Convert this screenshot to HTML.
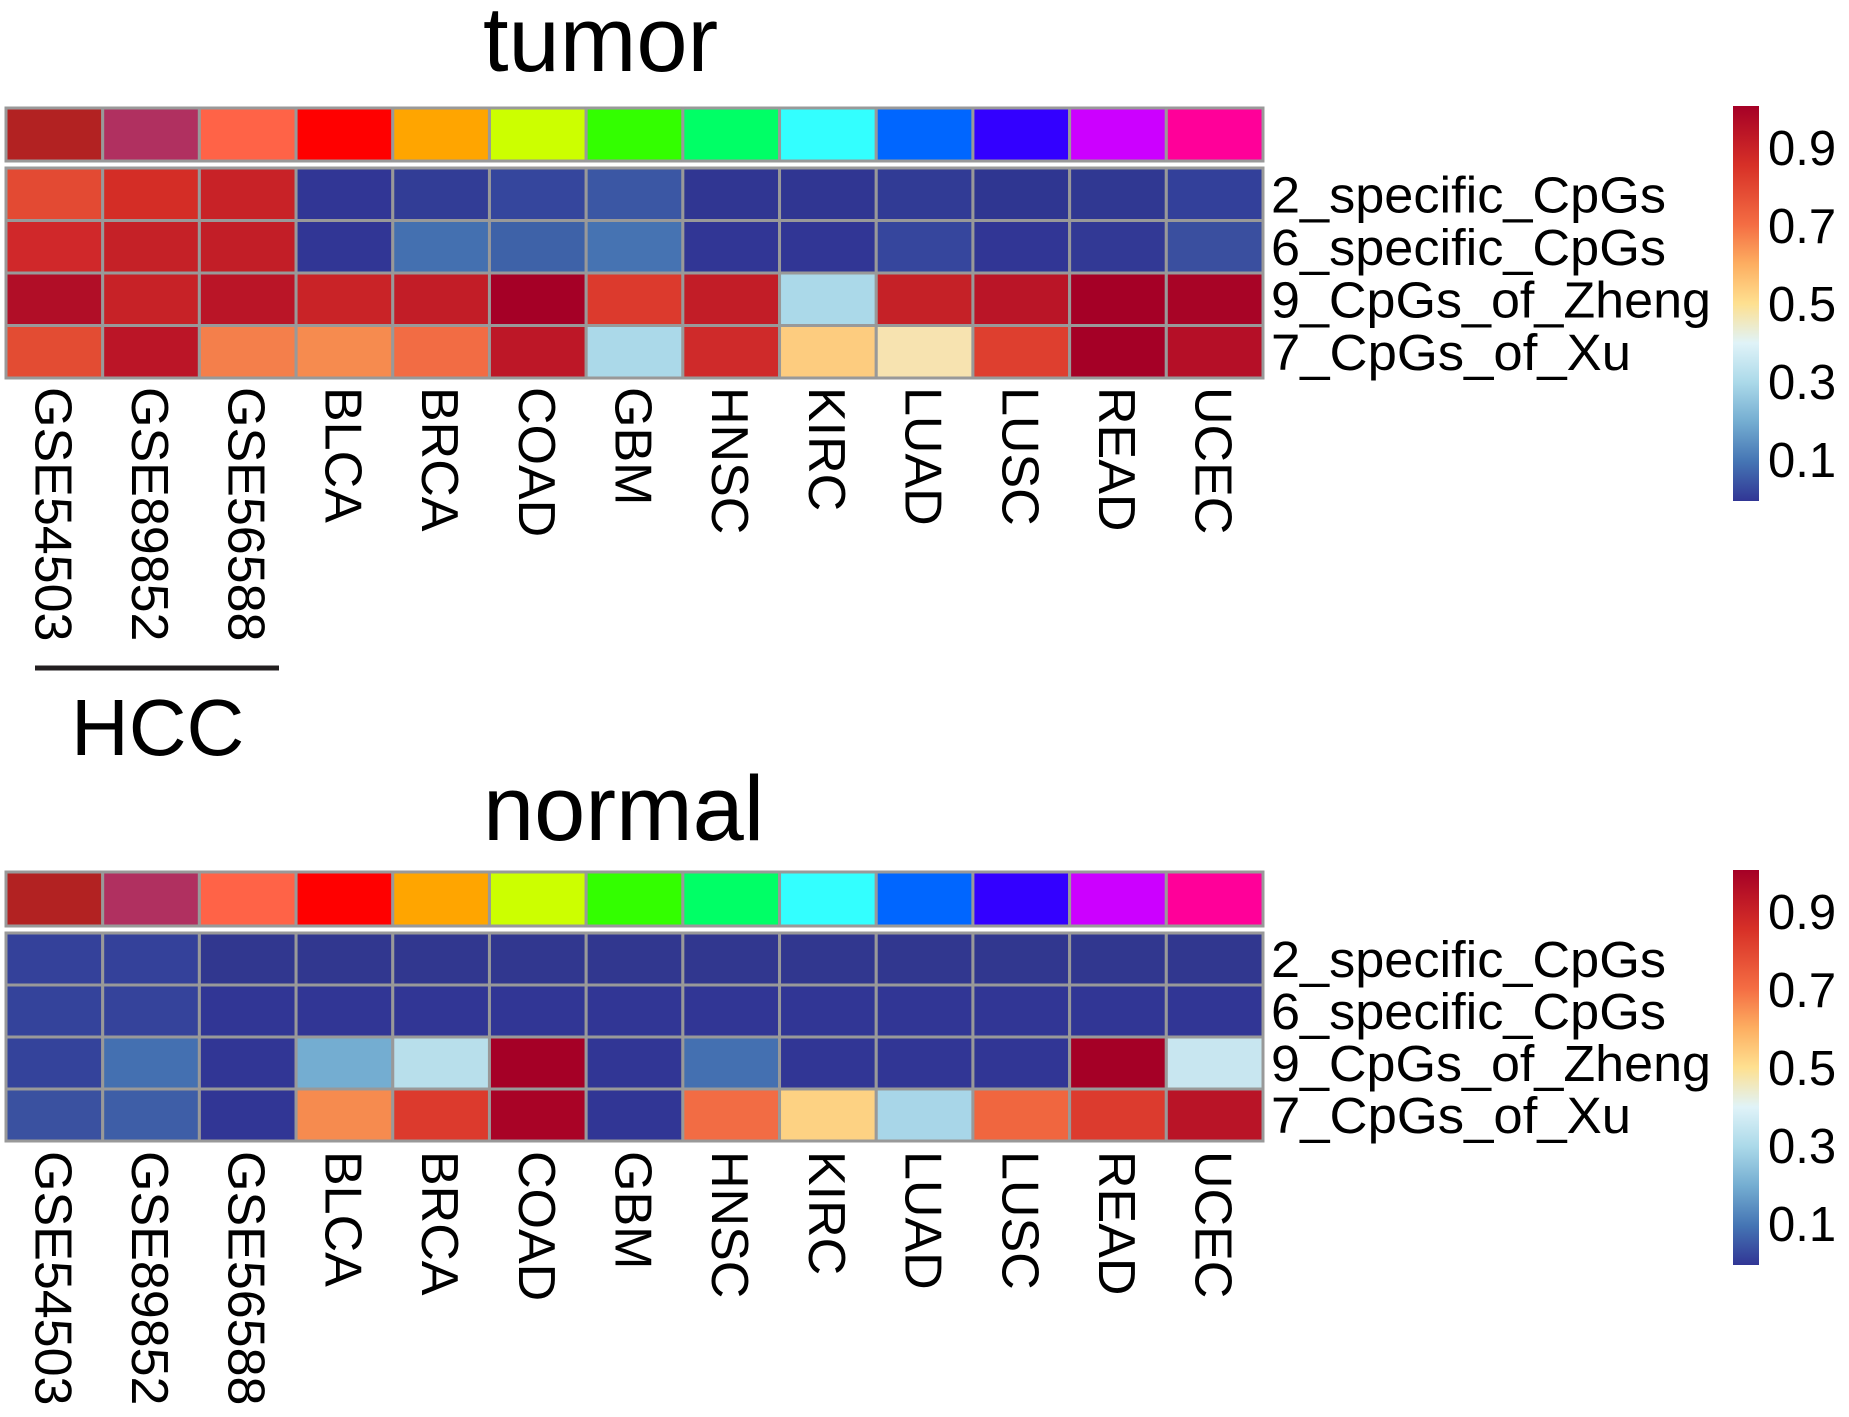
<!DOCTYPE html>
<html><head><meta charset="utf-8"><style>
html,body{margin:0;padding:0;background:#fff;}
svg{display:block;font-family:"Liberation Sans",Arial,sans-serif;}
</style></head><body>
<svg id="s" width="1849" height="1417" viewBox="0 0 1849 1417" xmlns="http://www.w3.org/2000/svg">
<defs>
<linearGradient id="cb" x1="0" y1="1" x2="0" y2="0">
<stop offset="0" stop-color="#313695"/><stop offset="0.1" stop-color="#4575b4"/>
<stop offset="0.2" stop-color="#74add1"/><stop offset="0.3" stop-color="#abd9e9"/>
<stop offset="0.4" stop-color="#e0f3f8"/><stop offset="0.5" stop-color="#fee090"/>
<stop offset="0.6" stop-color="#fdae61"/><stop offset="0.7" stop-color="#f46d43"/>
<stop offset="0.85" stop-color="#d73027"/><stop offset="1" stop-color="#a50026"/>
</linearGradient>
</defs>
<text x="483" y="71" font-size="92">tumor</text>
<text x="483" y="840" font-size="92">normal</text>
<line x1="35" y1="668" x2="279" y2="668" stroke="#231f20" stroke-width="5"/>
<text x="71" y="755" font-size="80">HCC</text>
<g id="panels"></g>
</svg>
<script>
var ann=["#B22222","#B03060","#FF6347","#FF0000","#FFA500","#CCFF00","#33FF00","#00FF66","#33FFFF","#0066FF","#3300FF","#CC00FF","#FF0099"];
var cols=["GSE54503","GSE89852","GSE56588","BLCA","BRCA","COAD","GBM","HNSC","KIRC","LUAD","LUSC","READ","UCEC"];
var rows=["2_specific_CpGs","6_specific_CpGs","9_CpGs_of_Zheng","7_CpGs_of_Xu"];
var T=[
["#E34A33","#D42D26","#C82227","#313695","#323d96","#35469d","#3b57a4","#303692","#303692","#313b95","#2f3691","#303892","#33409a"],
["#D0282A","#C52127","#C21E27","#313695","#4470b0","#3e62a8","#4673b2","#313695","#313695","#36469d","#313695","#323995","#3a4f9f"],
["#B10E27","#C72227","#BA1527","#C92327","#C21D27","#A50026","#DC3A2D","#C21D27","#ABD9E9","#C52127","#BA1527","#A50026","#A80426"],
["#E34C33","#BB1527","#F47F4B","#F68B4F","#F26C44","#BD1727","#ABD9E9","#CF2A2A","#FDCC7F","#F7E3B0","#DE3F2F","#A50026","#B50F27"]];
var N=[
["#34419a","#34419a","#31378f","#31378f","#31378f","#31378f","#31378f","#31378f","#31378f","#31378f","#31378f","#31378f","#31378f"],
["#34439b","#35439b","#313695","#313695","#313695","#313695","#313695","#313695","#313695","#313695","#313695","#313695","#313695"],
["#34439b","#4470b1","#313695","#74add1","#b8dfeb","#a50026","#313695","#4470b1","#313695","#313695","#313695","#a50026","#c8e6f0"],
["#3a51a0","#3e5ea7","#313695","#f68b4f","#dc3a2d","#a90326","#313695","#f26c44","#fdd283","#a8d6e8","#f0663f","#dc3b2e","#b91427"]];
var g=document.getElementById("panels"),h="";
var x0=6,cw=(1263-6)/13;
function panel(ay0,ay1,hy0,hy1,ly,cby,M){
 for(var i=0;i<13;i++){h+='<rect x="'+(x0+i*cw)+'" y="'+ay0+'" width="'+cw+'" height="'+(ay1-ay0)+'" fill="'+ann[i]+'" stroke="#999" stroke-width="3"/>';}
 var rh=(hy1-hy0)/4;
 for(var r=0;r<4;r++){for(var i=0;i<13;i++){h+='<rect x="'+(x0+i*cw)+'" y="'+(hy0+r*rh)+'" width="'+cw+'" height="'+rh+'" fill="'+M[r][i]+'" stroke="#999" stroke-width="3"/>';}
  h+='<text x="1271" y="'+(hy0+r*rh+rh/2+18)+'" font-size="51" textLength="'+[395,395,440,360][r]+'" lengthAdjust="spacingAndGlyphs">'+rows[r]+'</text>';}
 for(var i=0;i<13;i++){var cx=x0+i*cw+cw/2-19;
  h+='<text transform="translate('+cx+','+ly+') rotate(90)" font-size="52">'+cols[i]+'</text>';}
 h+='<rect x="1733" y="'+cby+'" width="26" height="395" fill="url(#cb)"/>';
 var t=["0.9","0.7","0.5","0.3","0.1"];
 for(var k=0;k<5;k++){h+='<text x="1768" y="'+(cby+41+18+k*78)+'" font-size="49">'+t[k]+'</text>';}
}
panel(108,161,168,378,387,106,T);
panel(872,926,933,1141,1151,870,N);
g.innerHTML=h;
</script>
</body></html>
